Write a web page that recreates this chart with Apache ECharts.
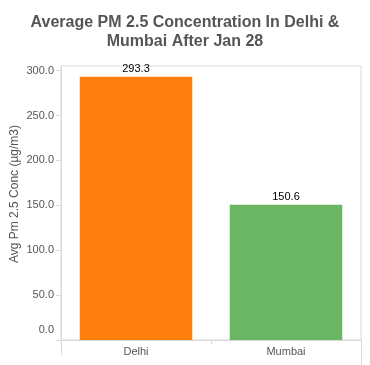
<!DOCTYPE html>
<html><head><meta charset="utf-8">
<script src="https://cdn.jsdelivr.net/npm/echarts@6/dist/echarts.min.js"></script>
<style>html,body{margin:0;padding:0;background:#fff}#c{width:370px;height:365px}</style>
</head><body><div id="c"></div>
<script>
const categories = ['Delhi', 'Mumbai'];
const values = [293.3, 150.6];
const barColors = ['#ff7f0e', '#6ab664'];
const titleText = 'Average PM 2.5 Concentration In Delhi &\nMumbai After Jan 28';
const yName = 'Avg Pm 2.5 Conc (\u00b5g/m3)';

const chart = echarts.init(document.getElementById('c'), null, {renderer: 'canvas'});
const F = 'Arial, "Liberation Sans", sans-serif';
chart.setOption({
  animation: false,
  title: {text: titleText, left: 'center', top: 8, textStyle: {fontFamily: F, fontSize: 16, fontWeight: 'bold', color: '#555', lineHeight: 19}},
  grid: {left: 61, right: 9, top: 66, bottom: 25, show: true, borderColor: '#d9d9d9', borderWidth: 1,
    containLabel: false, outerBoundsMode: 'none'},
  xAxis: {type: 'category', data: categories,
    axisLine: {lineStyle: {color: '#d9d9d9'}},
    axisTick: {show: true, length: 4, interval: 0, lineStyle: {color: '#d9d9d9'}},
    axisLabel: {color: '#555', fontFamily: F, fontSize: 11, margin: 6}},
  yAxis: {type: 'value', min: 0, max: 305.2, interval: 50, name: yName, nameLocation: 'middle', nameGap: 40,
    nameMoveOverlap: false,
    nameTextStyle: {color: '#555', fontFamily: F, fontSize: 12, padding: [0, 0, 0, 18]},
    axisLine: {show: true, lineStyle: {color: '#d9d9d9'}},
    axisTick: {show: true, length: 5, lineStyle: {color: '#d9d9d9'}},
    splitLine: {show: false},
    axisLabel: {color: '#555', fontFamily: F, fontSize: 11, margin: 7, showMaxLabel: false,
      formatter: v => v === 0 ? '{z|0.0}' : v.toFixed(1),
      rich: {z: {color: '#555', fontFamily: F, fontSize: 11, padding: [0, 0, 20, 0]}}}},
  series: [{type: 'bar', barWidth: '75%',
    data: values.map((v, i) => ({value: v, itemStyle: {color: barColors[i]}})),
    label: {show: true, position: 'top', distance: 2, color: '#000', fontFamily: F, fontSize: 11, formatter: p => p.value.toFixed(1)}}],
  graphic: [
    {type: 'line', shape: {x1: 61.5, y1: 340, x2: 61.5, y2: 355}, style: {stroke: '#d9d9d9', lineWidth: 1}},
    {type: 'line', shape: {x1: 361.5, y1: 340, x2: 361.5, y2: 365}, style: {stroke: '#d9d9d9', lineWidth: 1}}
  ]
});
</script></body></html>
